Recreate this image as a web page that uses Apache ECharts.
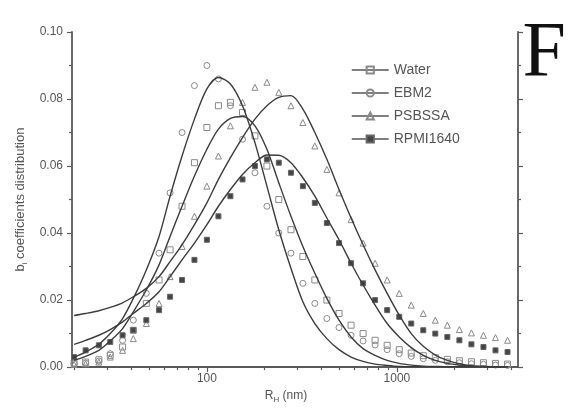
<!DOCTYPE html>
<html>
<head>
  <meta charset="utf-8">
</head>
<body style="margin: 0; background: #fff">
  <div id="container" style="width: 577px; height: 409px"></div>
  <script src="https://cdn.jsdelivr.net/npm/echarts@6/dist/echarts.min.js"></script>
  <script>
    // hydrodynamic radius bins, nm
    let sizes = [20, 23, 27, 31, 36, 41, 48, 56, 64, 74, 86, 100, 115, 133, 154, 179, 207,
      239, 277, 320, 370, 428, 496, 574, 664, 768, 889, 1029, 1190, 1377, 1593, 1843,
      2133, 2468, 2855, 3304, 3823];

    // measured points
    let water = [0.0012, 0.0015, 0.0022, 0.0035, 0.0060, 0.0110, 0.0190, 0.0260, 0.0350, 0.0480,
      0.0610, 0.0715, 0.0780, 0.0790, 0.0760, 0.0690, 0.0600, 0.0500, 0.0410, 0.0330,
      0.0260, 0.0200, 0.0160, 0.0125, 0.0100, 0.0080, 0.0065, 0.0052, 0.0042, 0.0034,
      0.0028, 0.0023, 0.0019, 0.0016, 0.0013, 0.0011, 0.0009];
    let ebm2 = [0.0010, 0.0012, 0.0018, 0.0040, 0.0080, 0.0140, 0.0220, 0.0340, 0.0520, 0.0700,
      0.0840, 0.0900, 0.0860, 0.0780, 0.0680, 0.0580, 0.0480, 0.0400, 0.0340, 0.0250,
      0.0190, 0.0145, 0.0118, 0.0095, 0.0078, 0.0066, 0.0052, 0.0040, 0.0032, 0.0025,
      0.0020, 0.0016, 0.0013, 0.0010, 0.0008, 0.0006, 0.0005];
    let psbssa = [0.0008, 0.0010, 0.0015, 0.0030, 0.0050, 0.0085, 0.0130, 0.0190, 0.0270, 0.0360,
      0.0450, 0.0540, 0.0630, 0.0720, 0.0790, 0.0835, 0.0850, 0.0820, 0.0780, 0.0730,
      0.0660, 0.0590, 0.0520, 0.0440, 0.0370, 0.0310, 0.0260, 0.0220, 0.0185, 0.0160,
      0.0140, 0.0125, 0.0112, 0.0102, 0.0095, 0.0088, 0.0080];
    let rpmi = [0.0030, 0.0050, 0.0065, 0.0075, 0.0095, 0.0110, 0.0140, 0.0170, 0.0210, 0.0260,
      0.0320, 0.0380, 0.0450, 0.0510, 0.0560, 0.0600, 0.0620, 0.0610, 0.0580, 0.0540,
      0.0490, 0.0430, 0.0370, 0.0310, 0.0250, 0.0200, 0.0170, 0.0150, 0.0130, 0.0110,
      0.0100, 0.0090, 0.0080, 0.0068, 0.0060, 0.0050, 0.0045];

    // fitted curves at the same bins
    let fitEbm2 = [0.0030, 0.0045, 0.0068, 0.0100, 0.0145, 0.0205, 0.0290, 0.0390, 0.0510, 0.0630,
      0.0740, 0.0830, 0.0864, 0.0845, 0.0780, 0.0670, 0.0540, 0.0410, 0.0295, 0.0195,
      0.0130, 0.0085, 0.0052, 0.0030, 0.0017, 0.0009, 0.0005, 0.0002, 0.0001, 0.0001,
      0.0001, 0.0001, 0.0001, 0.0001, 0.0001, 0.0001, 0.0001];
    let fitWater = [0.0020, 0.0032, 0.0050, 0.0078, 0.0115, 0.0165, 0.0230, 0.0305, 0.0390, 0.0480,
      0.0570, 0.0650, 0.0710, 0.0742, 0.0748, 0.0720, 0.0650, 0.0550, 0.0450, 0.0360,
      0.0280, 0.0205, 0.0140, 0.0090, 0.0055, 0.0035, 0.0020, 0.0011, 0.0006, 0.0003,
      0.0002, 0.0001, 0.0001, 0.0001, 0.0001, 0.0001, 0.0001];
    let fitPsbssa = [0.0154, 0.0160, 0.0168, 0.0178, 0.0192, 0.0210, 0.0235, 0.0270, 0.0315, 0.0365,
      0.0425, 0.0490, 0.0560, 0.0625, 0.0685, 0.0740, 0.0780, 0.0805, 0.0810, 0.0770,
      0.0700, 0.0620, 0.0530, 0.0445, 0.0365, 0.0290, 0.0220, 0.0155, 0.0100, 0.0062,
      0.0036, 0.0020, 0.0010, 0.0004, 0.0002, 0.0001, 0.0001];
    let fitRpmi = [0.0068, 0.0080, 0.0095, 0.0112, 0.0135, 0.0160, 0.0190, 0.0225, 0.0270, 0.0320,
      0.0370, 0.0425, 0.0480, 0.0530, 0.0575, 0.0610, 0.0633, 0.0632, 0.0610, 0.0565,
      0.0510, 0.0445, 0.0380, 0.0310, 0.0245, 0.0185, 0.0130, 0.0090, 0.0058, 0.0035,
      0.0020, 0.0011, 0.0006, 0.0003, 0.0002, 0.0001, 0.0001];

    // axis ticks
    let xRange = [19.5, 4340];
    let xMajorTicks = [100, 1000];
    let xMinorTicks = [20, 30, 40, 50, 60, 70, 80, 90, 200, 300, 400, 500, 600, 700, 800, 900,
      2000, 3000, 4000];
    let yTicks = [0, 0.02, 0.04, 0.06, 0.08, 0.10];

    let names = ['Water', 'EBM2', 'PSBSSA', 'RPMI1640'];
    let points = [water, ebm2, psbssa, rpmi];
    let fits = [fitWater, fitEbm2, fitPsbssa, fitRpmi];
    let symbols = ['rect', 'circle', 'triangle', 'rect'];

    let font = 'Liberation Sans';
    let axisColor = '#5a5a5a';
    let textColor = '#555';

    function toPairs(ys) {
      return sizes.map(function (r, i) { return [Math.log10(r), ys[i]]; });
    }

    let dom = document.getElementById('container');
    let myChart = echarts.init(dom, null, { renderer: 'canvas' });

    let series = [];
    points.forEach(function (ys, k) {
      let filled = k === 3;
      series.push({
        name: names[k],
        type: 'line',
        data: toPairs(ys),
        symbol: symbols[k],
        symbolSize: filled ? 5 : 6,
        showAllSymbol: true,
        lineStyle: { opacity: 0 },
        itemStyle: {
          color: filled ? '#444' : 'rgba(255,255,255,0)',
          borderColor: filled ? '#666' : '#8a8a8a',
          borderWidth: 1
        },
        silent: true,
        z: 2
      });
    });
    fits.forEach(function (ys, k) {
      series.push({
        name: names[k] + ' fit',
        type: 'line',
        data: toPairs(ys),
        showSymbol: false,
        smooth: 0.3,
        lineStyle: { color: '#3c3c3c', width: 1.4 },
        silent: true,
        z: 3
      });
    });

    let nameStyle = {
      fontFamily: font, fontSize: 12, color: textColor,
      rich: { sub: { fontSize: 8, padding: [8, 0, 0, 0], fontFamily: font, color: textColor } }
    };

    let option = {
      backgroundColor: '#fff',
      animation: false,
      grid: { left: 72, right: 59, top: 32, bottom: 39 },
      legend: {
        data: names,
        orient: 'vertical',
        left: 346,
        top: 58,
        itemWidth: 37,
        itemHeight: 9,
        itemGap: 9,
        textStyle: { fontFamily: font, fontSize: 14, color: textColor },
        lineStyle: { opacity: 1, width: 1.5, color: '#555' }
      },
      graphic: [{
        type: 'text',
        right: 11,
        top: 16,
        style: { text: 'F', font: 'normal 78px "Liberation Serif"', fill: '#111' }
      }],
      xAxis: [{
        type: 'value',
        min: Math.log10(xRange[0]),
        max: Math.log10(xRange[1]),
        name: 'R{sub|H} (nm)',
        nameLocation: 'middle',
        nameGap: 20,
        nameTextStyle: Object.assign({ padding: [0, 18, 0, 0] }, nameStyle),
        axisLine: { show: true, lineStyle: { color: axisColor, width: 1.8 } },
        axisTick: {
          show: true, length: 5, customValues: xMajorTicks.map(Math.log10),
          lineStyle: { color: axisColor, width: 1.2 }
        },
        axisLabel: {
          customValues: xMajorTicks.map(Math.log10),
          formatter: function (v) { return String(Math.round(Math.pow(10, v))); },
          fontFamily: font, fontSize: 12, color: textColor, margin: 6
        },
        splitLine: { show: false }
      }, {
        type: 'value',
        position: 'bottom',
        min: Math.log10(xRange[0]),
        max: Math.log10(xRange[1]),
        axisLine: { show: false },
        axisTick: {
          show: true, length: 3, customValues: xMinorTicks.map(Math.log10),
          lineStyle: { color: axisColor, width: 1.2 }
        },
        axisLabel: { show: false },
        splitLine: { show: false }
      }],
      yAxis: [{
        type: 'value',
        min: yTicks[0],
        max: yTicks[yTicks.length - 1],
        interval: 0.02,
        name: 'b{sub|i} coefficients distribution',
        nameLocation: 'middle',
        nameGap: 42,
        nameTextStyle: Object.assign({}, nameStyle, { fontSize: 13 }),
        axisLine: { show: true, lineStyle: { color: axisColor, width: 1.8 } },
        axisTick: { show: true, length: 5, lineStyle: { color: axisColor, width: 1.2 } },
        minorTick: { show: true, splitNumber: 2, length: 3, lineStyle: { color: axisColor, width: 1.2 } },
        axisLabel: {
          formatter: function (v) { return v.toFixed(2); },
          fontFamily: font, fontSize: 12, color: textColor, margin: 9
        },
        splitLine: { show: false }
      }, {
        type: 'value',
        position: 'right',
        min: yTicks[0],
        max: yTicks[yTicks.length - 1],
        interval: 0.02,
        axisLine: { show: true, lineStyle: { color: axisColor, width: 1.8 } },
        axisTick: { show: true, length: 5, lineStyle: { color: axisColor, width: 1.2 } },
        minorTick: { show: true, splitNumber: 2, length: 3, lineStyle: { color: axisColor, width: 1.2 } },
        axisLabel: { show: false },
        splitLine: { show: false }
      }],
      series: series
    };

    myChart.setOption(option);
  </script>
</body>
</html>
